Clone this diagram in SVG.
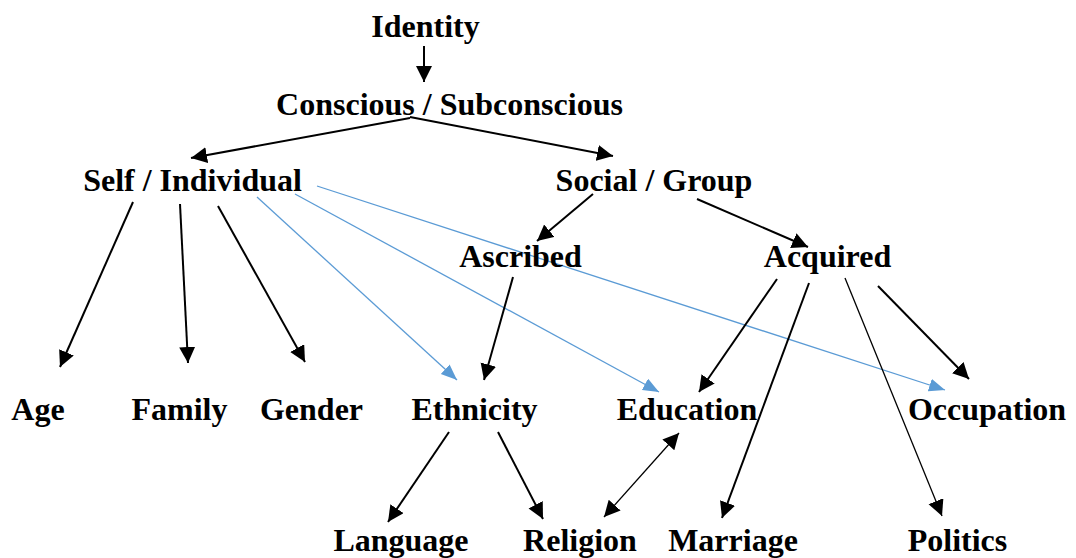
<svg xmlns="http://www.w3.org/2000/svg" width="1076" height="558" viewBox="0 0 1076 558">
<style>
.t{font-family:"Liberation Serif","Times New Roman",serif;font-weight:bold;font-size:32px;fill:#000;text-anchor:middle}
.k{stroke:#000;stroke-width:2;fill:none;marker-end:url(#ah)}
.th{stroke:#000;stroke-width:1.3;fill:none;marker-end:url(#ah)}
.b{stroke:#5B9BD5;stroke-width:1.3;fill:none;marker-end:url(#bh)}
</style>
<defs>
<marker id="ah" markerUnits="userSpaceOnUse" markerWidth="17" markerHeight="17" refX="16" refY="8" orient="auto-start-reverse" viewBox="0 0 17 17"><path d="M0,0 L16,8 L0,16 z" fill="#000"/></marker>
<marker id="bh" markerUnits="userSpaceOnUse" markerWidth="17" markerHeight="14" refX="16" refY="6.5" orient="auto" viewBox="0 0 17 14"><path d="M0,0 L16,6.5 L0,13 z" fill="#5B9BD5"/></marker>
</defs>
<g id="connectors">
<line class="k" x1="424" y1="46" x2="424" y2="82"/>
<line class="k" x1="410" y1="118" x2="191" y2="158"/>
<line class="k" x1="410" y1="117" x2="613" y2="156"/>
<line class="k" x1="593" y1="194" x2="537" y2="241"/>
<line class="k" x1="697" y1="199" x2="808" y2="247"/>
<line class="k" x1="133" y1="202" x2="60" y2="367"/>
<line class="k" x1="180" y1="204" x2="188" y2="363"/>
<line class="k" x1="218" y1="206" x2="305" y2="362"/>
<line class="b" x1="257" y1="197" x2="457" y2="380"/>
<line class="b" x1="295" y1="194" x2="659" y2="392"/>
<line class="b" x1="317" y1="186" x2="945" y2="390"/>
<line class="k" x1="513" y1="277" x2="484" y2="380"/>
<line class="k" x1="777" y1="279" x2="699" y2="392"/>
<line class="k" x1="809" y1="283" x2="722" y2="518"/>
<line class="th" x1="845" y1="278" x2="942" y2="516"/>
<line class="k" x1="878" y1="286" x2="969" y2="379"/>
<line class="k" x1="449" y1="432" x2="388" y2="522"/>
<line class="k" x1="498" y1="432" x2="543" y2="519"/>
<line class="th" x1="604" y1="517" x2="679" y2="433" style="marker-start:url(#ah)"/>
</g>
<g id="identity"><text class="t" x="425.5" y="37">Identity</text></g>
<g id="conscious"><text class="t" x="449.5" y="115">Conscious / Subconscious</text></g>
<g id="self"><text class="t" x="192.5" y="191">Self / Individual</text></g>
<g id="social"><text class="t" x="654" y="191">Social / Group</text></g>
<g id="ascribed"><text class="t" x="520.5" y="267">Ascribed</text></g>
<g id="acquired"><text class="t" x="827.5" y="267">Acquired</text></g>
<g id="age"><text class="t" x="38" y="420">Age</text></g>
<g id="family"><text class="t" x="179.5" y="420">Family</text></g>
<g id="gender"><text class="t" x="311.5" y="420">Gender</text></g>
<g id="ethnicity"><text class="t" x="474.5" y="420">Ethnicity</text></g>
<g id="education"><text class="t" x="687" y="420">Education</text></g>
<g id="occupation"><text class="t" x="987" y="420">Occupation</text></g>
<g id="language"><text class="t" x="401" y="551">Language</text></g>
<g id="religion"><text class="t" x="580" y="551">Religion</text></g>
<g id="marriage"><text class="t" x="733" y="551">Marriage</text></g>
<g id="politics"><text class="t" x="957.5" y="551">Politics</text></g>
</svg>
